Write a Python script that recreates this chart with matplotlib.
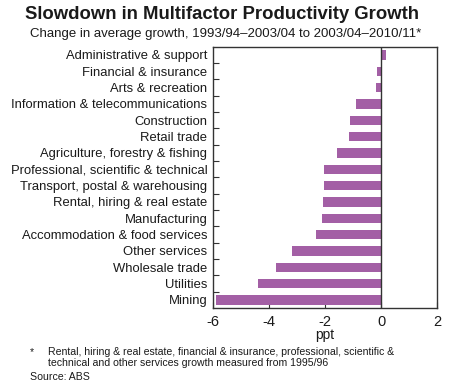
import matplotlib.pyplot as plt
import numpy as np

plt.rcParams['font.family'] = ['Liberation Sans', 'DejaVu Sans']

# data, top to bottom as shown
industries = [
    "Administrative & support",
    "Financial & insurance",
    "Arts & recreation",
    "Information & telecommunications",
    "Construction",
    "Retail trade",
    "Agriculture, forestry & fishing",
    "Professional, scientific & technical",
    "Transport, postal & warehousing",
    "Rental, hiring & real estate",
    "Manufacturing",
    "Accommodation & food services",
    "Other services",
    "Wholesale trade",
    "Utilities",
    "Mining",
]
change_ppt = [0.17, -0.14, -0.18, -0.89, -1.11, -1.14, -1.57, -2.04,
              -2.04, -2.08, -2.11, -2.33, -3.18, -3.76, -4.40, -5.90]
xticks = [-6, -4, -2, 0, 2]

bar_color = "#a35fa5"
line_color = "#333333"
text_color = "#1a1a1a"

fig = plt.figure(figsize=(4.54, 3.9), dpi=100)
ax = fig.add_axes([0.469, 0.210, 0.494, 0.670])

n = len(industries)
ypos = np.arange(n)[::-1]
ax.barh(ypos, change_ppt, height=0.57, color=bar_color, zorder=2)
ax.axvline(0, color=line_color, linewidth=1.0, zorder=3)

ax.set_xlim(-6, 2)
ax.set_ylim(-0.5, n - 0.5)
ax.set_xticks(xticks)
ax.set_xticklabels([str(t) for t in xticks], fontsize=10.5, color=text_color)
ax.set_yticks(ypos)
ax.set_yticklabels(industries, fontsize=9.4, color=text_color)
ax.tick_params(axis="y", which="major", length=0, pad=4)
ax.set_yticks(np.arange(n - 1) + 0.5, minor=True)
ax.tick_params(axis="y", which="minor", direction="in", length=4,
               width=0.8, color=line_color)
ax.tick_params(axis="x", direction="in", length=4, width=0.8,
               color=line_color, pad=5)
for s in ax.spines.values():
    s.set_color(line_color)
    s.set_linewidth(1.0)

ax.set_xlabel("ppt", fontsize=10, labelpad=-1, color=text_color)

fig.text(0.49, 0.963, "Slowdown in Multifactor Productivity Growth",
         ha="center", va="center", fontsize=13.3, fontweight="bold",
         color=text_color)
fig.text(0.496, 0.912,
         "Change in average growth, 1993/94\u20132003/04 to 2003/04\u20132010/11*",
         ha="center", va="center", fontsize=9.5, color=text_color)

fig.text(0.066, 0.097, "*", ha="left", va="center", fontsize=7.6,
         color=text_color)
fig.text(0.106, 0.097,
         "Rental, hiring & real estate, financial & insurance, professional, scientific &",
         ha="left", va="center", fontsize=7.6, color=text_color)
fig.text(0.106, 0.068,
         "technical and other services growth measured from 1995/96",
         ha="left", va="center", fontsize=7.6, color=text_color)
fig.text(0.066, 0.034, "Source: ABS", ha="left", va="center", fontsize=7.6,
         color=text_color)

fig.savefig("out.png", dpi=100)
